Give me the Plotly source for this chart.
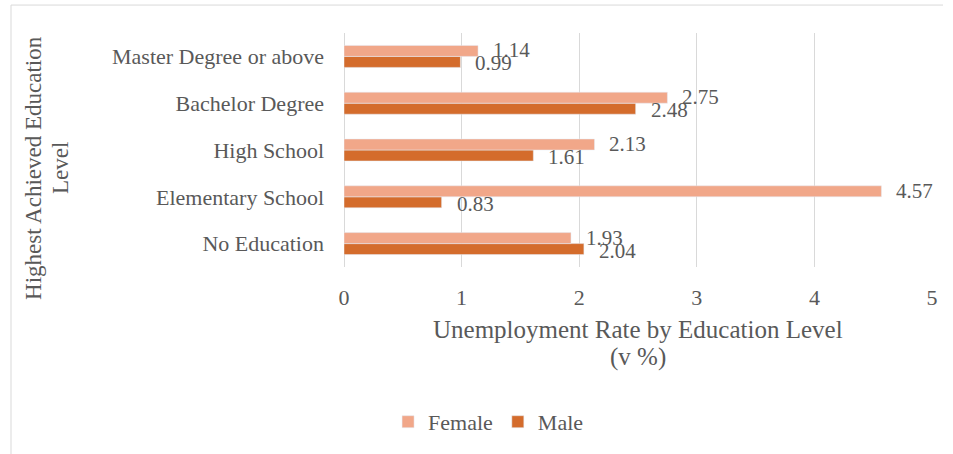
import plotly.graph_objects as go

categories = ["No Education", "Elementary School", "High School", "Bachelor Degree", "Master Degree or above"]
female = [1.93, 4.57, 2.13, 2.75, 1.14]
male = [2.04, 0.83, 1.61, 2.48, 0.99]
x_ticks = [0, 1, 2, 3, 4, 5]
x_title = ["Unemployment Rate by Education Level", "(v %)"]
y_title = ["Highest Achieved Education", "Level"]

FONT = "Times New Roman"
TXT = "#595959"
C_F = "#F1A789"
C_M = "#D46C2C"

fig = go.Figure()
fig.add_trace(go.Bar(y=categories, x=male, orientation="h", name="Male",
                     marker=dict(color=C_M), legendrank=2))
fig.add_trace(go.Bar(y=categories, x=female, orientation="h", name="Female",
                     marker=dict(color=C_F), legendrank=1))

annotations = []
for cat, v in zip(categories, female):
    annotations.append(dict(x=v, y=cat, xref="x", yref="y", text=f"{v:.2f}", showarrow=False,
                            xanchor="left", yanchor="middle", xshift=13, yshift=6,
                            font=dict(family=FONT, size=21, color=TXT)))
for cat, v in zip(categories, male):
    annotations.append(dict(x=v, y=cat, xref="x", yref="y", text=f"{v:.2f}", showarrow=False,
                            xanchor="left", yanchor="middle", xshift=13, yshift=-7,
                            font=dict(family=FONT, size=21, color=TXT)))

# axis titles (two lines each)
for txt, yy in zip(x_title, [-0.269, -0.385]):
    annotations.append(dict(x=0.5, y=yy, xref="paper", yref="paper", text=txt, showarrow=False,
                            xanchor="center", yanchor="middle",
                            font=dict(family=FONT, size=25, color=TXT)))
for txt, xx in zip(y_title, [-0.529, -0.483]):
    annotations.append(dict(x=xx, y=0.423, xref="paper", yref="paper", text=txt, showarrow=False,
                            textangle=-90, xanchor="center", yanchor="middle",
                            font=dict(family=FONT, size=23, color=TXT)))

border = dict(color="#d9d9d9", width=1)
fig.update_layout(
    width=953, height=454,
    margin=dict(l=344, r=21, t=33, b=187, autoexpand=False),
    paper_bgcolor="white", plot_bgcolor="white",
    barmode="group", bargap=0.53, bargroupgap=0,
    font=dict(family=FONT, size=22, color=TXT),
    showlegend=True,
    legend=dict(orientation="h", x=0.245, y=-0.662, xanchor="center", yanchor="middle",
                font=dict(family=FONT, size=22, color=TXT), itemwidth=30,
                traceorder="normal"),
    annotations=annotations,
    shapes=[
        dict(type="line", xref="paper", yref="paper", x0=-0.5663, x1=1.0187, y0=1.1194, y1=1.1194,
             line=border, layer="below"),
        dict(type="line", xref="paper", yref="paper", x0=-0.5663, x1=-0.5663, y0=-0.85, y1=1.1194,
             line=border, layer="below"),
    ],
)
fig.update_xaxes(range=[0, 5], tickvals=x_ticks, ticktext=[str(t) for t in x_ticks],
                 showgrid=True, gridcolor="#d9d9d9", gridwidth=1,
                 zeroline=True, zerolinecolor="#d9d9d9", zerolinewidth=1,
                 showline=False, ticks="", ticklabelstandoff=15, automargin=False,
                 tickfont=dict(family=FONT, size=22, color=TXT))
fig.update_yaxes(categoryorder="array", categoryarray=categories,
                 showgrid=False, zeroline=False, showline=False, ticks="",
                 ticklabelstandoff=19, automargin=False,
                 tickfont=dict(family=FONT, size=22, color=TXT))

fig.write_html("out.html", config={"displayModeBar": False},
               post_script="document.body.style.margin='0';")
